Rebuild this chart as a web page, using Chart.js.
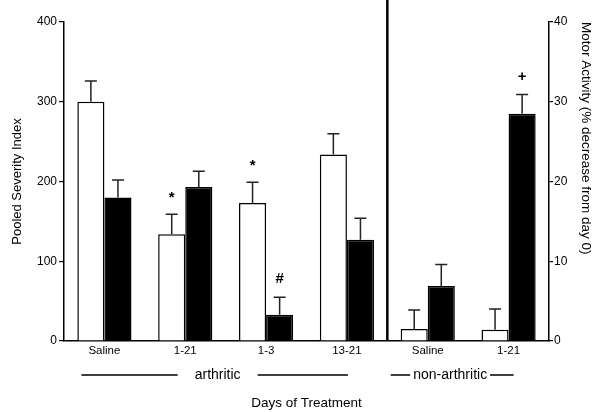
<!DOCTYPE html>
<html>
<head>
<meta charset="utf-8">
<script src="https://cdn.jsdelivr.net/npm/chart.js@4.4.0/dist/chart.umd.min.js"></script>
<style>
html,body{margin:0;padding:0;background:#fff;}
canvas{display:block;}
</style>
</head>
<body>
<canvas id="c" width="604" height="412"></canvas>
<script>
// ---- data ----
const categories = ['Saline', '1-21', '1-3', '13-21', 'Saline', '1-21'];
const severity = [300, 134, 173, 234, 15, 14];          // left axis, white bars
const severityErr = [26, 25, 26, 26, 24, 26];
const motor = [18.0, 19.3, 3.3, 12.7, 6.9, 28.5];        // right axis, black bars
const motorErr = [2.2, 2.0, 2.2, 2.7, 2.7, 2.4];
const severityMarks = ['', '*', '*', '', '', ''];
const motorMarks = ['', '', '#', '', '', '+'];
const leftTicks = [0, 100, 200, 300, 400];
const rightTicks = [0, 10, 20, 30, 40];
const groupLabels = ['arthritic', 'non-arthritic'];

const FONT = '"Liberation Sans", Arial, sans-serif';
Chart.defaults.color = '#000';
Chart.defaults.font.family = FONT;

const errors = [severityErr, motorErr];
const marks = [severityMarks, motorMarks];

const extras = {
  id: 'extras',
  afterDatasetsDraw(chart) {
    const ctx = chart.ctx;
    const area = chart.chartArea;
    const xs = chart.scales.x;
    ctx.save();
    // error bars and markers
    chart.data.datasets.forEach((ds, di) => {
      const meta = chart.getDatasetMeta(di);
      const sc = chart.scales[ds.yAxisID];
      meta.data.forEach((el, i) => {
        const top = sc.getPixelForValue(ds.data[i] + errors[di][i]);
        ctx.strokeStyle = '#222';
        ctx.lineWidth = 1.5;
        ctx.beginPath();
        ctx.moveTo(el.x, el.y);
        ctx.lineTo(el.x, top);
        ctx.moveTo(el.x - 6, top);
        ctx.lineTo(el.x + 6, top);
        ctx.stroke();
        const m = marks[di][i];
        if (m) {
          ctx.fillStyle = '#000';
          ctx.font = 'bold 15px ' + FONT;
          ctx.textAlign = 'center';
          ctx.textBaseline = 'alphabetic';
          ctx.fillText(m, el.x, top - (m === '*' ? 12 : 14));
        }
      });
    });
    // divider
    const divX = (xs.getPixelForValue(3) + xs.getPixelForValue(4)) / 2;
    ctx.strokeStyle = '#000';
    ctx.lineWidth = 2.5;
    ctx.beginPath();
    ctx.moveTo(divX, 0);
    ctx.lineTo(divX, area.bottom);
    ctx.stroke();
    // group labels
    const gy = 375;
    ctx.font = '14px ' + FONT;
    ctx.fillStyle = '#000';
    ctx.textAlign = 'center';
    ctx.textBaseline = 'middle';
    ctx.lineWidth = 1.6;
    const p0 = xs.getPixelForValue(0), p1 = xs.getPixelForValue(1), p3 = xs.getPixelForValue(3);
    const p4 = xs.getPixelForValue(4), p5 = xs.getPixelForValue(5);
    const aX = (p1 + xs.getPixelForValue(2)) / 2 - 8;
    ctx.fillText(groupLabels[0], aX, gy);
    ctx.beginPath();
    ctx.moveTo(p0 - 23, gy); ctx.lineTo(aX - 40, gy);
    ctx.moveTo(aX + 40, gy); ctx.lineTo(p3 + 1, gy);
    ctx.stroke();
    const nX = (p4 + p5) / 2 - 18;
    ctx.fillText(groupLabels[1], nX, gy);
    const w = ctx.measureText(groupLabels[1]).width;
    ctx.beginPath();
    ctx.moveTo(p4 - 37, gy); ctx.lineTo(nX - w / 2 - 3, gy);
    ctx.moveTo(nX + w / 2 + 3, gy); ctx.lineTo(p5 + 5, gy);
    ctx.stroke();
    ctx.restore();
  }
};

new Chart(document.getElementById('c'), {
  type: 'bar',
  data: {
    labels: categories,
    datasets: [
      { label: 'Pooled Severity Index', data: severity, yAxisID: 'y',
        backgroundColor: '#fff', borderColor: '#000', borderWidth: 1.5,
        categoryPercentage: 0.67, barPercentage: 1.0 },
      { label: 'Motor Activity', data: motor, yAxisID: 'y1',
        backgroundColor: '#000', borderColor: '#000', borderWidth: 1.5,
        categoryPercentage: 0.67, barPercentage: 1.0 }
    ]
  },
  options: {
    responsive: false,
    animation: false,
    devicePixelRatio: 1,
    layout: { padding: { top: 22, left: 0, right: 0, bottom: 0 } },
    plugins: { legend: { display: false }, tooltip: { enabled: false } },
    scales: {
      x: {
        offset: true,
        grid: { display: false, drawTicks: false },
        border: { display: true, color: '#000', width: 1.5 },
        ticks: { padding: 3, font: { size: 11.5 }, color: '#000' },
        title: { display: true, text: 'Days of Treatment', font: { size: 13.5 }, padding: { top: 0, bottom: 1 }, color: '#000' },
        afterFit(s) { s.height = 71; }
      },
      y: {
        position: 'left',
        min: 0, max: 400,
        afterBuildTicks(s) { s.ticks = leftTicks.map(v => ({ value: v })); },
        grid: { drawOnChartArea: false, drawTicks: true, tickLength: 5, color: '#000', lineWidth: 1.2 },
        border: { display: true, color: '#000', width: 1.5 },
        ticks: { padding: 2, font: { size: 12 }, color: '#000' },
        title: { display: true, text: 'Pooled Severity Index', font: { size: 13 }, padding: { top: 10, bottom: 0 }, color: '#000' },
        afterFit(s) { s.width = 64; }
      },
      y1: {
        position: 'right',
        min: 0, max: 40,
        afterBuildTicks(s) { s.ticks = rightTicks.map(v => ({ value: v })); },
        grid: { drawOnChartArea: false, drawTicks: true, tickLength: 4, color: '#000', lineWidth: 1.2 },
        border: { display: true, color: '#000', width: 1.5 },
        ticks: { padding: 1, font: { size: 12 }, color: '#000' },
        title: { display: true, text: 'Motor Activity (% decrease from day 0)', align: 'end', font: { size: 13.5 }, padding: { top: 10, bottom: 0 }, color: '#000' },
        afterFit(s) { s.width = 55; }
      }
    }
  },
  plugins: [extras]
});
</script>
</body>
</html>
